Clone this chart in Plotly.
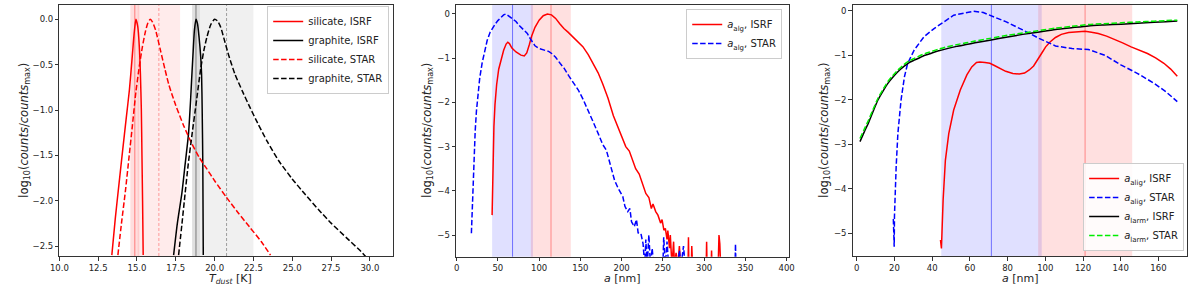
import plotly.graph_objects as go

# ---------------- Panel 1 data: T_dust [K] vs log10(counts/counts_max)
t_sil_isrf = [13.38, 13.6, 13.85, 14.08, 14.3, 14.51, 14.7, 14.82, 14.93, 15.05, 15.15, 15.22, 15.28, 15.32, 15.36, 15.4]
v_sil_isrf = [-2.6, -2.2, -1.8, -1.44, -1.1, -0.78, -0.4, -0.15, 0.0, -0.08, -0.3, -0.6, -1.0, -1.5, -2.0, -2.6]

t_gra_isrf = [17.36, 17.6, 17.89, 18.1, 18.32, 18.45, 18.53, 18.62, 18.7, 18.8, 18.9, 19.0, 19.1, 19.16, 19.2, 19.24, 19.27]
v_gra_isrf = [-2.6, -2.25, -1.92, -1.6, -1.26, -0.9, -0.63, -0.35, -0.12, 0.0, -0.05, -0.2, -0.4, -0.6, -1.0, -1.6, -2.6]

t_sil_star = [13.77, 14.0, 14.25, 14.5, 14.7, 14.93, 15.15, 15.35, 15.55, 15.7, 15.85, 16.0, 16.2, 16.51,
              16.8, 17.05, 17.5, 18.0, 18.5, 19.0, 19.5, 20.0, 20.75, 21.5, 22.25, 23.0, 23.6]
v_sil_star = [-2.6, -2.25, -1.9, -1.5, -1.18, -0.8, -0.52, -0.3, -0.13, -0.04, 0.0, -0.03, -0.12, -0.34,
              -0.55, -0.72, -0.95, -1.17, -1.36, -1.52, -1.65, -1.78, -1.96, -2.13, -2.29, -2.45, -2.6]

t_gra_star = [17.68, 17.9, 18.1, 18.3, 18.53, 18.84, 19.1, 19.3, 19.5, 19.75, 20.0, 20.2, 20.4, 20.6, 20.86,
              21.3, 21.81, 22.3, 22.76, 23.4, 24.13, 25.0, 25.83, 26.7, 27.52, 28.5, 29.43, 29.75]
v_gra_star = [-2.6, -2.25, -1.92, -1.6, -1.29, -0.89, -0.55, -0.35, -0.2, -0.06, 0.0, -0.02, -0.09, -0.21, -0.37,
              -0.6, -0.8, -0.98, -1.14, -1.35, -1.56, -1.76, -1.93, -2.1, -2.25, -2.41, -2.56, -2.62]

# mean and mean +/- std markers (panel 1)
p1_mean = {"sil_isrf": 14.86, "sil_star": 16.41, "gra_isrf": 18.8, "gra_star": 20.77}
p1_span = {"sil_isrf": [14.57, 15.15], "sil_star": [15.04, 17.78], "gra_isrf": [18.55, 19.05], "gra_star": [19.04, 22.5]}

# ---------------- Panel 2 data: a [nm]
a2_isrf = [43, 43.5, 44.2, 45.2, 46.5, 48.5, 51, 54, 57, 60, 62, 64, 67, 72, 78, 82, 85, 88, 91, 95, 100, 105, 110,
           115, 120, 125, 130, 135, 140, 147.5, 153, 159.5, 165, 171.5, 177, 183.4, 190, 195.4, 200, 205, 209.3,
           213, 217, 221.3, 225, 229.3, 233, 236, 238, 241.3, 244, 247.2, 249, 251.2, 253, 255, 256, 258, 259, 261,
           263, 264, 266, 268, 270, 271.5, 274, 276, None, 280.5, 281, 281.5, 284.5, 285, 286, None,
           302.5, 303, 303.5, 308.5, 309, 309.5, None, 317, 318, 319, 320]
v2_isrf = [-4.55, -3.9, -3.2, -2.55, -2.05, -1.6, -1.25, -1.0, -0.82, -0.68, -0.64, -0.67, -0.77, -0.86, -0.93,
           -0.95, -0.88, -0.7, -0.5, -0.3, -0.14, -0.04, 0.0, -0.02, -0.1, -0.22, -0.33, -0.41, -0.5, -0.62, -0.74,
           -0.92, -1.1, -1.33, -1.58, -1.9, -2.3, -2.55, -2.8, -3.0, -3.1, -3.3, -3.5, -3.62, -3.85, -4.06, -4.15,
           -4.4, -4.3, -4.47, -4.55, -4.73, -4.65, -4.89, -4.85, -5.1, -4.9, -5.3, -5.0, -5.7, -5.15, -5.7, -5.4,
           -5.7, -5.25, -5.7, -5.6, -5.7, None, -5.7, -5.05, -5.7, -5.7, -5.25, -5.7, None,
           -5.7, -5.15, -5.7, -5.7, -5.35, -5.7, None, -5.7, -5.0, -5.2, -5.7]

a2_star = [17.9, 18.8, 19.8, 21, 22.5, 24, 26, 28, 31, 34, 37, 40.7, 44, 47, 50, 53.8, 57, 59.8, 63, 67.8, 72, 75.8,
           80, 85.7, 89, 91.7, 95, 99.7, 104, 107.7, 112, 115.6, 120, 125.6, 130, 135.6, 141, 147.5, 153, 159.5,
           165, 171.5, 177, 181.5, 186, 191.4, 196, 201.4, 204, 207.4, 210, 212, 215.3, 218, 220, 223.3, 226, 228,
           229.3, 231, 233, 235, 237, 239, None, 250, 251, 253, 255, 257, None, 268, 270, 272, 275, 277, None,
           337.5, 338, 338.5]
v2_star = [-4.96, -4.4, -3.8, -3.2, -2.65, -2.2, -1.8, -1.45, -1.1, -0.82, -0.6, -0.41, -0.3, -0.22, -0.15, -0.08,
           -0.02, 0.0, -0.04, -0.1, -0.17, -0.26, -0.34, -0.44, -0.55, -0.63, -0.72, -0.78, -0.8, -0.82, -0.85,
           -0.9, -0.98, -1.12, -1.22, -1.39, -1.55, -1.72, -1.92, -2.18, -2.42, -2.7, -2.95, -3.08, -3.4, -3.76,
           -3.95, -4.13, -4.35, -4.47, -4.4, -4.7, -4.81, -4.65, -4.95, -4.96, -5.2, -5.7,
           -5.1, -5.7, -5.0, -5.7, -5.3, -5.7, None, -5.7, -5.05, -5.7, -5.15, -5.7, None, -5.7, -5.35, -5.7, -5.25,
           -5.7, None, -5.7, -5.2, -5.7]

p2_mean = {"isrf": 114.4, "star": 67.8}
p2_span = {"isrf": [90.0, 138.4], "star": [43.0, 92.5]}

# ---------------- Panel 3 data: a [nm]
a3_alig_isrf = [44.4, 44.9, 45.2, 45.8, 47, 48.8, 51.4, 54.9, 58.4, 61, 63.5, 65.3, 68, 70.6, 73, 75.8, 79, 82.8,
                86.2, 89, 91.5, 93.8, 95.9, 98, 100.2, 102.5, 105.4, 108.5, 112.4, 116.5, 121.1, 124.5, 128.1,
                132.5, 136.8, 141, 145.5, 150, 154.2, 158.5, 162.9, 166.5, 170]
v3_alig_isrf = [-5.15, -5.34, -4.98, -4.25, -3.36, -2.76, -2.23, -1.78, -1.44, -1.26, -1.16, -1.15, -1.16, -1.18,
                -1.23, -1.29, -1.36, -1.41, -1.42, -1.40, -1.33, -1.24, -1.11, -0.96, -0.81, -0.70, -0.60, -0.53,
                -0.49, -0.47, -0.46, -0.48, -0.51, -0.57, -0.64, -0.72, -0.81, -0.89, -0.96, -1.06, -1.18, -1.31,
                -1.47]

a3_alig_star = [19.4, 19.55, 19.7, 19.85, 20.0, 20.3, 20.9, 21.8, 23.5, 25.3, 27, 30.5, 35.7, 41, 46.2, 51.4, 56,
                61.9, 67.1, 72.3, 79.3, 88, 96.7, 105.4, 114.2, 122.9, 131.6, 140.3, 149, 157.7, 164, 170]
v3_alig_star = [-4.68, -4.9, -4.75, -5.3, -4.6, -4.2, -3.5, -2.76, -2.0, -1.48, -1.18, -0.88, -0.58, -0.4, -0.25,
                -0.1, -0.06, -0.01, -0.04, -0.13, -0.25, -0.43, -0.62, -0.79, -0.85, -0.87, -1.0, -1.22, -1.41,
                -1.63, -1.82, -2.04]

a3_larm = [1.7, 4, 6.1, 8.5, 11.3, 14, 16.5, 19, 21.8, 25, 28, 30.5, 35, 39.2, 43.5, 47.9, 53, 58, 62.7, 70.6, 80,
           88, 96, 105.4, 114, 122.9, 131, 140.3, 149, 157.7, 164, 170]
v3_larm_isrf = [-2.94, -2.72, -2.53, -2.28, -2.0, -1.8, -1.63, -1.5, -1.37, -1.25, -1.16, -1.11, -1.02, -0.96, -0.9,
                -0.85, -0.8, -0.76, -0.72, -0.66, -0.59, -0.53, -0.48, -0.42, -0.38, -0.34, -0.32, -0.30, -0.28,
                -0.26, -0.245, -0.23]
v3_larm_star = [-2.87, -2.66, -2.47, -2.23, -1.96, -1.76, -1.59, -1.46, -1.33, -1.21, -1.12, -1.07, -0.98, -0.92,
                -0.86, -0.81, -0.76, -0.72, -0.68, -0.62, -0.55, -0.5, -0.45, -0.39, -0.35, -0.31, -0.29, -0.27,
                -0.25, -0.235, -0.22, -0.21]

p3_mean = {"isrf": 121.1, "star": 71.4}
p3_span = {"isrf": [96.2, 146.1], "star": [44.8, 98.1]}

# ---------------- Figure
FONT = "DejaVu Sans"
DASH = "5.5px,2.4px"
fig = go.Figure()


def add(x, y, name, color, dash, ax, legend, shape="linear"):
    fig.add_trace(go.Scatter(
        x=x, y=y, mode="lines", name=name,
        line=dict(color=color, width=1.5, dash=dash, shape=shape, smoothing=0.6),
        xaxis="x" + ax, yaxis="y" + ax, legend=legend, showlegend=True))


add(t_sil_isrf, v_sil_isrf, "silicate, ISRF", "#ff0000", "solid", "", "legend", "spline")
add(t_gra_isrf, v_gra_isrf, "graphite, ISRF", "#000000", "solid", "", "legend", "spline")
add(t_sil_star, v_sil_star, "silicate, STAR", "#ff0000", DASH, "", "legend", "spline")
add(t_gra_star, v_gra_star, "graphite, STAR", "#000000", DASH, "", "legend", "spline")

add(a2_isrf, v2_isrf, "<i>a</i><sub>alg</sub>, ISRF", "#ff0000", "solid", "2", "legend2")
add(a2_star, v2_star, "<i>a</i><sub>alg</sub>, STAR", "#0000ff", DASH, "2", "legend2")

add(a3_alig_isrf, v3_alig_isrf, "<i>a</i><sub>alig</sub>, ISRF", "#ff0000", "solid", "3", "legend3")
add(a3_alig_star, v3_alig_star, "<i>a</i><sub>alig</sub>, STAR", "#0000ff", DASH, "3", "legend3")
add(a3_larm, v3_larm_isrf, "<i>a</i><sub>larm</sub>, ISRF", "#000000", "solid", "3", "legend3", "spline")
add(a3_larm, v3_larm_star, "<i>a</i><sub>larm</sub>, STAR", "#00ee00", DASH, "3", "legend3", "spline")

shapes = []


def span(x0, x1, ax, color):
    shapes.append(dict(type="rect", xref="x" + ax, yref="y" + ax + " domain", x0=x0, x1=x1, y0=0, y1=1,
                       fillcolor=color, line=dict(width=0), layer="below"))


def vline(x, ax, color, dash="solid"):
    shapes.append(dict(type="line", xref="x" + ax, yref="y" + ax + " domain", x0=x, x1=x, y0=0, y1=1,
                       line=dict(color=color, width=1, dash=dash), layer="below"))


span(*p1_span["sil_isrf"], "", "rgba(255,0,0,0.13)")
span(*p1_span["sil_star"], "", "rgba(255,0,0,0.08)")
span(*p1_span["gra_isrf"], "", "rgba(0,0,0,0.12)")
span(*p1_span["gra_star"], "", "rgba(0,0,0,0.06)")
vline(p1_mean["sil_isrf"], "", "rgba(255,0,0,0.45)")
vline(p1_mean["sil_star"], "", "rgba(255,0,0,0.35)", "3px,2px")
vline(p1_mean["gra_isrf"], "", "rgba(0,0,0,0.45)")
vline(p1_mean["gra_star"], "", "rgba(0,0,0,0.35)", "3px,2px")

span(*p2_span["star"], "2", "rgba(0,0,255,0.12)")
span(*p2_span["isrf"], "2", "rgba(255,0,0,0.12)")
vline(p2_mean["star"], "2", "rgba(0,0,255,0.5)")
vline(p2_mean["isrf"], "2", "rgba(255,0,0,0.4)")

span(*p3_span["star"], "3", "rgba(0,0,255,0.12)")
span(*p3_span["isrf"], "3", "rgba(255,0,0,0.12)")
vline(p3_mean["star"], "3", "rgba(0,0,255,0.5)")
vline(p3_mean["isrf"], "3", "rgba(255,0,0,0.4)")

W, H = 1200, 290
axcommon = dict(showline=True, mirror=True, linecolor="#333333", linewidth=1, ticks="outside", ticklen=3.5,
                tickwidth=0.8, tickcolor="#333333", showgrid=False, zeroline=False,
                tickfont=dict(family=FONT, size=8.5, color="#222222"))

def px_x(a, b):
    return [a / W, b / W]

def px_y(top, bottom):
    return [1 - bottom / H, 1 - top / H]

fig.update_layout(
    width=W, height=H, margin=dict(l=0, r=0, t=0, b=0),
    paper_bgcolor="white", plot_bgcolor="white",
    font=dict(family=FONT, size=11, color="#222222"),
    xaxis=dict(domain=px_x(51, 389), range=[10, 31.5], tickvals=[10, 12.5, 15, 17.5, 20, 22.5, 25, 27.5, 30],
               tickformat=".1f", anchor="y", **axcommon),
    yaxis=dict(domain=px_y(5, 256), range=[-2.61, 0.158], tickvals=[-2.5, -2, -1.5, -1, -0.5, 0],
               tickformat=".1f", anchor="x", **axcommon),
    xaxis2=dict(domain=px_x(452.7, 790), range=[-0.7, 403], tickvals=list(range(0, 401, 50)), anchor="y2",
                **axcommon),
    yaxis2=dict(domain=px_y(4.7, 256.7), range=[-5.49, 0.21], tickvals=[-5, -4, -3, -2, -1, 0], anchor="x2",
                **axcommon),
    xaxis3=dict(domain=px_x(854.3, 1193), range=[-2.2, 175.2], tickvals=list(range(0, 161, 20)), anchor="y3",
                **axcommon),
    yaxis3=dict(domain=px_y(5, 256), range=[-5.51, 0.13], tickvals=[-5, -4, -3, -2, -1, 0], anchor="x3",
                **axcommon),
    shapes=shapes,
)

legcommon = dict(bgcolor="rgba(255,255,255,0.85)", bordercolor="#cccccc", borderwidth=1,
                 font=dict(family=FONT, size=10, color="#222222"), tracegroupgap=0, itemwidth=30)
fig.update_layout(
    legend=dict(x=385 / W, y=1 - 6 / H, xanchor="right", yanchor="top", **legcommon),
    legend2=dict(x=783 / W, y=1 - 9 / H, xanchor="right", yanchor="top", **legcommon),
    legend3=dict(x=1190 / W, y=1 - 251 / H, xanchor="right", yanchor="bottom", **legcommon),
)

ylab = "log<sub>10</sub>(<i>counts</i>/<i>counts</i><sub>max</sub>)"
ann = []
for xc in [15, 423, 825]:
    ann.append(dict(text=ylab, x=xc / W, y=1 - 130 / H, xref="paper", yref="paper", showarrow=False,
                    textangle=-90, xanchor="center", yanchor="middle", font=dict(family=FONT, size=11.5)))
for text, xc in [("<i>T<sub>dust</sub></i> [K]", 224), ("<i>a</i> [nm]", 621), ("<i>a</i> [nm]", 1024)]:
    ann.append(dict(text=text, x=xc / W, y=1 - 270 / H, xref="paper", yref="paper", showarrow=False,
                    xanchor="center", yanchor="top", font=dict(family=FONT, size=11)))
fig.update_layout(annotations=ann)

fig.write_html("out.html", config={"displayModeBar": False},
               post_script="document.body.style.margin='0px';document.body.style.overflow='hidden';")
